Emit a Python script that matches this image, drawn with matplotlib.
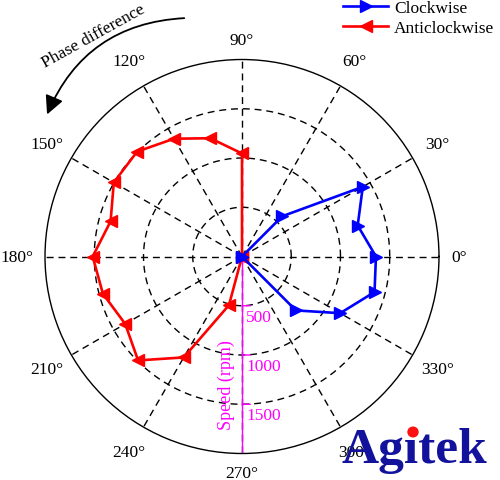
import numpy as np
import matplotlib
matplotlib.use('Agg')
import matplotlib.pyplot as plt
from matplotlib.patches import FancyArrowPatch, Circle

plt.rcParams['font.family'] = ['Liberation Serif', 'DejaVu Serif']

# clockwise (blue) - angle in degrees, speed in rpm
cw_angle = [0, 45, 30, 15, 0, -15, -30, -45, 0]
cw_speed = [0, 578, 1416, 1216, 1360, 1393, 1151, 774, 0]

# anticlockwise (red)
acw_angle = [0, 90, 105, 120, 135, 150, 165, 180, 195, 210, 225, 240, 255, 0]
acw_speed = [0, 1046, 1243, 1381, 1506, 1503, 1381, 1516, 1462, 1369, 1492, 1183, 511, 0]

grid_angles = [0, 30, 60, 90, 120, 150, 180, 210, 240, 270, 300, 330]
ring_speeds = [500, 1000, 1500]
rmax = 2000

fig = plt.figure(figsize=(5, 4.81), dpi=100)
ax = fig.add_axes([0.09, 0.0551, 0.788, 0.8191], projection='polar')
ax.set_ylim(0, rmax)
ax.grid(False)
ax.set_xticks([])
ax.set_yticks([])
ax.spines['polar'].set_linewidth(1.0)
ax.spines['polar'].set_color('black')

# dashed grid
th = np.linspace(0, 2 * np.pi, 400)
for r in ring_speeds:
    ax.plot(th, np.full_like(th, r), color='black', lw=1.0, ls=(0, (5, 3.5)), zorder=1)
for a in grid_angles:
    ax.plot([np.deg2rad(a)] * 2, [0, rmax], color='black', lw=1.0, ls=(0, (5, 3.5)), zorder=1)

# angle labels (MATLAB-ish placement, closer on the axes)
for a in grid_angles:
    if a in (0, 90, 270):
        lr = 2200
    elif a == 180:
        lr = 2280
    else:
        lr = 2290
    ax.text(np.deg2rad(a), lr, '%d\u00b0' % a, ha='center', va='center',
            fontsize=12.5, clip_on=False)

# radial speed axis
mag = '#ff00ff'
ax.plot([np.deg2rad(270)] * 2, [0, rmax], color=mag, lw=1.0, zorder=2)
for r in ring_speeds:
    ax.annotate('', xy=(np.deg2rad(270), r), xytext=(6, 0), textcoords='offset points',
                arrowprops=dict(arrowstyle='-', color=mag, lw=1.0, shrinkA=0, shrinkB=0))
    ax.annotate(str(r), xy=(np.deg2rad(270), r), xytext=(3, -8), textcoords='offset points',
                ha='left', va='center', color=mag, fontsize=12.5)
ax.annotate('Speed (rpm)', xy=(np.deg2rad(270), 1300), xytext=(-11, 0), textcoords='offset points',
            ha='center', va='center', rotation=90, color=mag, fontsize=13)

# data
ax.plot(np.deg2rad(cw_angle), cw_speed, color='#0000ff', lw=1.9, marker='>',
        markersize=9, label='Clockwise', zorder=4)
ax.plot(np.deg2rad(acw_angle), acw_speed, color='#ff0000', lw=1.9, marker='<',
        markersize=9, label='Anticlockwise', zorder=3)

fig.legend(loc='upper left', bbox_to_anchor=(343 / 500, 1 - 1 / 481), frameon=False,
           fontsize=12.5, borderpad=0, borderaxespad=0, handlelength=2.6,
           handletextpad=0.35, labelspacing=0.2, numpoints=1)

# phase difference arrow
W, H = 500, 481
arr = FancyArrowPatch((187 / W, 1 - 19 / H), (46 / W, 1 - 118 / H),
                      transform=fig.transFigure, connectionstyle='arc3,rad=0.32',
                      arrowstyle='-|>,head_length=0.7,head_width=0.35',
                      mutation_scale=16, color='black', lw=1.3)
fig.patches.append(arr)
fig.text(93 / W, 1 - 37 / H, 'Phase difference', rotation=29, ha='center', va='center',
         fontsize=12.5)

# logo
fig.text(342 / W, 1 - 463 / H, 'Ag\u0131tek', ha='left', va='baseline', fontsize=37,
         fontweight='bold', color='#12129c')
fig.patches.append(Circle((413 / W, 1 - 433 / H), 0.010, transform=fig.transFigure,
                          color='#ff1010'))

fig.savefig('out.png', dpi=100)
